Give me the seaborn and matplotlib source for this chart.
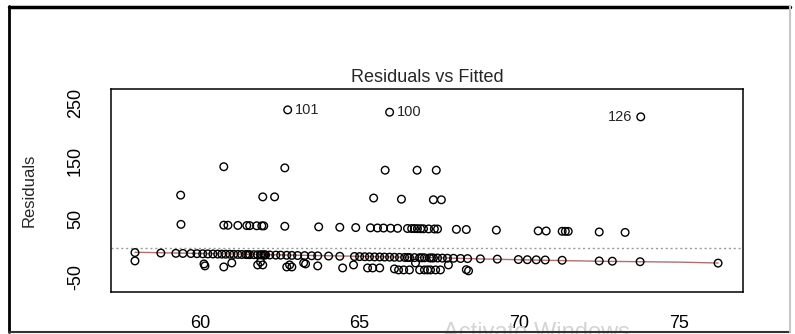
import numpy as np
import pandas as pd
import matplotlib
matplotlib.use("Agg")
import matplotlib.pyplot as plt
import seaborn as sns

# ------------------------------
# Values (fitted value, residual), by band
# ------------------------------
fitted_out = [62.75, 65.94, 73.80]
resid_out = [238, 234, 226]
out_labels = ["101", "100", "126"]

fitted_b200 = [60.75, 62.66, 65.80, 66.80, 67.40]
resid_b200 = [140, 138, 134, 134, 134]

fitted_b150 = [59.40, 61.97, 62.34, 65.44, 66.31, 67.31, 67.56]
resid_b150 = [91, 88, 88, 86, 84, 83, 83]

fitted_b100 = [59.41, 60.75, 60.88, 61.19, 61.47, 61.56, 61.78, 61.94, 62.00,
               62.66, 63.72, 64.38, 64.88, 65.34, 65.56, 65.75, 65.97, 66.19,
               66.50, 66.63, 66.72, 66.81, 66.91, 67.00, 67.16, 67.34, 67.44,
               68.03, 68.34, 69.28, 70.59, 70.84, 71.34, 71.44, 71.53, 72.50,
               73.31]
resid_b100 = [40.6, 39.3, 39.1, 38.8, 38.5, 38.4, 38.2, 38.1, 38.0,
              37.3, 36.3, 35.6, 35.1, 34.7, 34.4, 34.3, 34.0, 33.8,
              33.5, 33.4, 33.3, 33.2, 33.1, 33.0, 32.8, 32.7, 32.6,
              32.0, 31.7, 30.7, 29.4, 29.2, 28.7, 28.6, 28.5, 27.5,
              26.7]

fitted_b50 = [57.97, 58.78, 59.25, 59.47, 59.72, 59.91, 60.09, 60.25, 60.41,
              60.56, 60.69, 60.81, 60.94, 61.06, 61.19, 61.31, 61.44, 61.50,
              61.56, 61.69, 61.81, 61.90, 61.94, 62.00, 62.03, 62.06, 62.19,
              62.38, 62.53, 62.72, 62.88, 63.06, 63.28, 63.50, 63.69, 64.03,
              64.38, 64.84, 65.00, 65.16, 65.31, 65.47, 65.63, 65.78, 65.94,
              66.09, 66.25, 66.41, 66.50, 66.56, 66.72, 66.88, 66.95, 67.03,
              67.19, 67.25, 67.31, 67.44, 67.59, 67.75, 67.94, 68.16, 68.38,
              68.78, 69.31, 69.97, 70.25, 70.53, 70.81, 71.34, 72.50, 72.91,
              73.78, 76.22]
resid_b50 = [-8.0, -8.8, -9.3, -9.5, -9.7, -9.9, -10.1, -10.3, -10.4,
             -10.6, -10.7, -10.8, -10.9, -11.1, -11.2, -11.3, -11.4, -11.5,
             -11.6, -11.7, -11.8, -11.9, -11.9, -12.0, -12.0, -12.1, -12.2,
             -12.4, -12.5, -12.7, -12.9, -13.1, -13.3, -13.5, -13.7, -14.0,
             -14.4, -14.8, -15.0, -15.2, -15.3, -15.5, -15.6, -15.8, -15.9,
             -16.1, -16.3, -16.4, -16.5, -16.6, -16.7, -16.9, -17.0, -17.0,
             -17.2, -17.3, -17.3, -17.4, -17.6, -17.8, -17.9, -18.2, -18.4,
             -18.8, -19.3, -20.0, -20.3, -20.5, -20.8, -21.3, -22.5, -22.9,
             -23.8, -26.2]

fitted_low = [57.97, 60.13, 60.16, 60.75, 61.00, 61.81, 61.90, 61.97, 62.72,
              62.81, 62.88, 63.25, 63.31, 63.69, 64.47, 64.81, 65.25, 65.41,
              65.63, 66.09, 66.22, 66.38, 66.56, 66.75, 66.88, 67.03, 67.13,
              67.22, 67.38, 67.53, 67.78, 68.34, 68.41]
resid_low = [-22.4, -27.6, -31.0, -32.8, -25.9, -29.3, -24.0, -29.3, -32.8,
             -29.3, -32.8, -25.9, -27.6, -31.0, -34.5, -29.3, -34.5, -34.5,
             -34.5, -36.2, -37.9, -37.9, -37.9, -25.9, -37.9, -37.9, -37.9,
             -37.9, -37.9, -37.9, -29.3, -37.5, -39.5]

# smoother (red line)
smooth_x = [57.97, 60.0, 62.0, 64.0, 66.0, 67.5, 68.8, 70.5, 72.5, 75.0, 76.22]
smooth_y = [-7.5, -9.5, -11.5, -13.5, -15.5, -17.0, -19.0, -21.0, -23.0, -24.5, -26.0]

y_ticks = [-50, 0, 50, 100, 150, 200, 250]
y_ticklabels = ["-50", "", "50", "", "150", "", "250"]
x_ticks = [60, 65, 70, 75]

df = pd.DataFrame({
    "fitted": fitted_out + fitted_b200 + fitted_b150 + fitted_b100 + fitted_b50 + fitted_low,
    "resid": resid_out + resid_b200 + resid_b150 + resid_b100 + resid_b50 + resid_low,
})

# ------------------------------
# Plot
# ------------------------------
sns.set_style("white")
plt.rcParams["font.family"] = ["Liberation Sans", "DejaVu Sans"]

fig = plt.figure(figsize=(7.95, 3.34), dpi=100)
ax = fig.add_axes([111 / 795, 1 - 292 / 334, 632 / 795, 203 / 334])

ax.axhline(0, color="#9a9a9a", lw=1, ls=(0, (1.5, 2)), zorder=1)
sns.lineplot(x=smooth_x, y=smooth_y, ax=ax, color="#b07070", lw=1, zorder=2)
sns.scatterplot(data=df, x="fitted", y="resid", ax=ax, s=30,
                facecolors="none", edgecolor="black", linewidth=1.0, zorder=3)

for fx, ry, lab in zip(fitted_out, resid_out, out_labels):
    if lab == "126":
        ax.annotate(lab, (fx, ry), xytext=(-6, 0), textcoords="offset points",
                    ha="right", va="center", fontsize=10.5)
    else:
        ax.annotate(lab, (fx, ry), xytext=(5, 0), textcoords="offset points",
                    ha="left", va="center", fontsize=10.5)

ax.set_xlim(57.22, 77.0)
ax.set_ylim(-76, 274)
ax.set_xticks(x_ticks)
ax.set_yticks(y_ticks)
ax.set_yticklabels(y_ticklabels)
plt.setp(ax.get_yticklabels(), rotation=90, va="center")
ax.tick_params(axis="both", direction="out", length=7.5, width=1, colors="black",
               labelsize=13)
ax.tick_params(axis="x", pad=9)
ax.tick_params(axis="y", pad=12)
for sp in ax.spines.values():
    sp.set_color("black")
    sp.set_linewidth(1.1)

ax.set_xlabel("")
ax.set_ylabel("Residuals", fontsize=12)
ax.yaxis.set_label_coords(-0.118, 0.5)
ax.set_title("Residuals vs Fitted", fontsize=13, pad=5)

# screenshot frame and watermark
fig.add_artist(plt.Line2D([9 / 795, 9 / 795], [1 - 6 / 334, 1 - 332 / 334],
                          transform=fig.transFigure, color="black", lw=2))
fig.add_artist(plt.Line2D([9 / 795, 790 / 795], [1 - 7 / 334, 1 - 7 / 334],
                          transform=fig.transFigure, color="black", lw=2.5))
fig.add_artist(plt.Line2D([9 / 795, 790 / 795], [1 - 332 / 334, 1 - 332 / 334],
                          transform=fig.transFigure, color="#333333", lw=1.5))
fig.add_artist(plt.Line2D([790 / 795, 790 / 795], [1 - 6 / 334, 1 - 332 / 334],
                          transform=fig.transFigure, color="#c8c8c8", lw=1.5))
fig.text(443 / 795, 1 - 322 / 334, "Activate Windows", color="#d4d4d4",
         fontsize=17, ha="left", va="top", zorder=0)

fig.savefig("out.png", dpi=100)
